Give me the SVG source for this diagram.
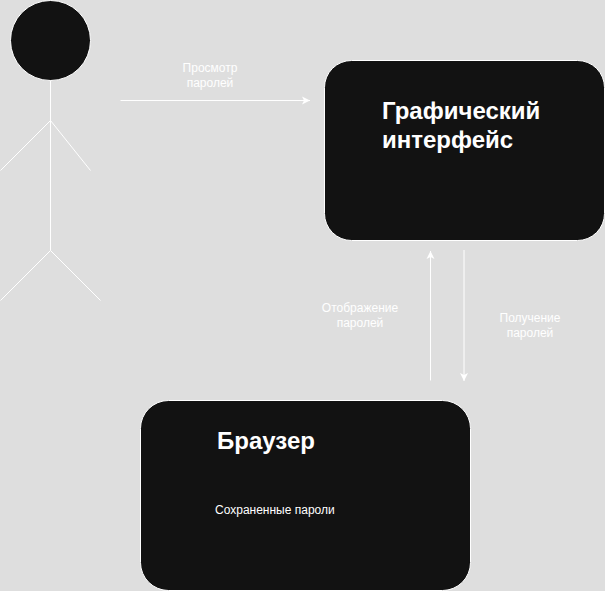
<svg xmlns="http://www.w3.org/2000/svg" width="605" height="591" viewBox="0 0 605 591">
<style>
.shape{fill:#121212;stroke:#ffffff;stroke-width:1}
.limb{fill:none;stroke:#ffffff;stroke-width:1}
.conn{fill:none;stroke:#ffffff;stroke-width:1;marker-end:url(#arrow)}
text{font-family:"Liberation Sans",Arial,sans-serif;fill:#ffffff}
.lbl{font-size:12px;text-anchor:middle}
.title{font-size:24px;font-weight:700}
.sub{font-size:12px}
</style>
<defs>
<marker id="arrow" markerUnits="userSpaceOnUse" markerWidth="10" markerHeight="10" refX="8" refY="4" orient="auto" overflow="visible">
<path d="M0 0L8 4L0 8L2 4Z" fill="#ffffff"/>
</marker>
</defs>
<rect width="605" height="591" fill="#dedede"/>
<g id="actor">
<circle class="shape" cx="50.500" cy="40.500" r="40"/>
<path class="limb" d="M50.500 80.500V250.500M0.500 170.500L50.500 120.500L90.500 170.500M0.500 300.500L50.500 250.500L100.500 300.500"/>
</g>
<g id="gui">
<rect class="shape" x="324.500" y="60.500" width="280" height="180" rx="27" ry="27"/>
<text class="title" x="382" y="119">Графический</text>
<text class="title" x="382" y="148">интерфейс</text>
</g>
<g id="browser">
<rect class="shape" x="140.500" y="400.500" width="330" height="190" rx="28" ry="28"/>
<text class="title" x="217" y="449">Браузер</text>
<text class="sub" x="215" y="514">Сохраненные пароли</text>
</g>
<g id="connectors">
<path class="conn" d="M120.500 100.500H310"/>
<path class="conn" d="M430.500 380.500V251"/>
<path class="conn" d="M464 250V381"/>
</g>
<g id="labels">
<text class="lbl" x="210" y="72">Просмотр</text>
<text class="lbl" x="210" y="87">паролей</text>
<text class="lbl" x="360" y="312">Отображение</text>
<text class="lbl" x="360" y="327">паролей</text>
<text class="lbl" x="530" y="322">Получение</text>
<text class="lbl" x="530" y="337">паролей</text>
</g>
</svg>
